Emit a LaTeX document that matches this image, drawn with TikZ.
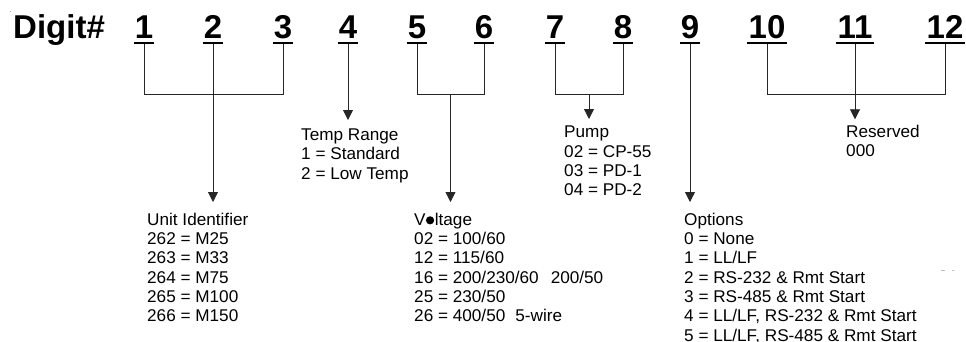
\documentclass[tikz,border=0pt]{standalone}
\usepackage{fontspec}
\setmainfont{Liberation Sans}
\newfontfamily\bodyf{Liberation Sans}[FakeStretch=1.01]
\usetikzlibrary{arrows.meta,calc}
\newcommand{\blackdot}{\tikz[baseline=0pt]{\fill[x=1pt,y=1pt] (4.4,4.8) circle[radius=4.1];\path[x=1pt,y=1pt] (0,0) (9.2,0);}}
\begin{document}
\begin{tikzpicture}[x=1pt,y=-1pt,
  dig/.style={font=\fontsize{33}{33}\selectfont\bfseries, inner xsep=1pt, inner ysep=0pt, anchor=base},
  lbl/.style={font=\bodyf\fontsize{17}{19.35}\selectfont, align=left, inner sep=0pt, anchor=north west},
  wire/.style={line width=0.8pt, black!85},
  arr/.style={wire, -{Triangle[width=10pt,length=10pt]}},
  uline/.style={line width=2pt}]
\useasboundingbox (0,0) rectangle (966,341);
% title and digits
\node[dig, anchor=base west, inner xsep=0pt] (title) at (13,38) {Digit\#};
\foreach \n/\x in {1/144,2/213,3/283,4/348,5/417,6/484,7/555,8/623,9/690,10/767,11/855,12/945}{
  \node[dig] (d\n) at (\x,38) {\n};
  \draw[uline] ([yshift=-5pt]d\n.base west) -- ([yshift=-5pt]d\n.base east);
  \coordinate (u\n) at ([yshift=-6pt]d\n.base);
}
\coordinate (row) at (0,94);
% text blocks
\node[lbl] (unit) at (147,212.6) {Unit Identifier\\262 = M25\\263 = M33\\264 = M75\\265 = M100\\266 = M150};
\node[lbl] (temp) at (301,128.5) {Temp Range\\1 = Standard\\2 = Low Temp};
\node[lbl] (volt) at (414,212.6) {V\blackdot ltage\\02 = 100/60\\12 = 115/60\\16 = 200/230/60\hspace{12pt}200/50\\25 = 230/50\\26 = 400/50\hspace{10pt}5-wire};
\node[lbl] (pump) at (564,125.8) {Pump\\02 = CP-55\\03 = PD-1\\04 = PD-2};
\node[lbl] (opt) at (684,212.6) {Options\\0 = None\\1 = LL/LF\\2 = RS-232 \& Rmt Start\\3 = RS-485 \& Rmt Start\\4 = LL/LF, RS-232 \& Rmt Start\\5 = LL/LF, RS-485 \& Rmt Start};
\node[lbl] (res) at (846,125) {Reserved\\000};
% connectors
\draw[wire] (u1) -- (u1 |- row) -- (u3 |- row) -- (u3);
\draw[arr, shorten >=10.6pt] (u2) -- (u2 |- unit.north);
\draw[arr, shorten >=8.5pt] (u4) -- (u4 |- temp.north);
\draw[wire] (u5) -- (u5 |- row) -- (u6 |- row) -- (u6);
\coordinate (m56) at ($(u5 |- row)!0.5!(u6 |- row)$);
\draw[arr, shorten >=10.6pt] (m56) -- (m56 |- volt.north);
\draw[wire] (u7) -- (u7 |- row) -- (u8 |- row) -- (u8);
\coordinate (m78) at ($(u7 |- row)!0.5!(u8 |- row)$);
\draw[arr, shorten >=6.8pt] (m78) -- (m78 |- pump.north);
\draw[arr, shorten >=10.6pt] (u9) -- (u9 |- opt.north);
\draw[wire] (u10) -- (u10 |- row) -- (u12 |- row) -- (u12);
\draw[arr, shorten >=5.7pt] (u11) -- (u11 |- res.north);
% small specks
\fill[gray!60] (9.5,10.5) rectangle (11,11.5);
\draw[gray!50, line width=0.6pt] (941,270) -- (945,270) (952,270) -- (954,270);
\end{tikzpicture}
\end{document}
